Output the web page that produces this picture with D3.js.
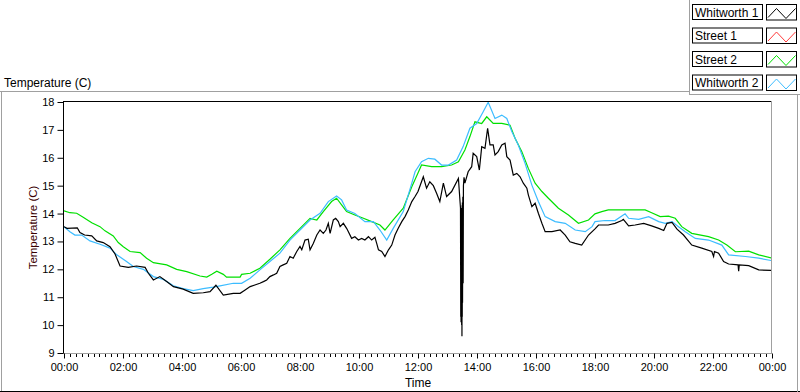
<!DOCTYPE html>
<html><head><meta charset="utf-8">
<script src="https://cdn.jsdelivr.net/npm/d3@7"></script>
<style>
html,body{margin:0;padding:0;background:#fff;}
svg{display:block;font-family:"Liberation Sans",Arial,sans-serif;}
</style></head>
<body>
<svg id="chart" width="800" height="392"></svg>
<script>
// ---- data ----
const seriesNames = ["Whitworth 1", "Street 1", "Street 2", "Whitworth 2"];
const seriesColors = ["#000000", "#ff3a3a", "#00e000", "#3cbcff"];
const xTickLabels = ["00:00","02:00","04:00","06:00","08:00","10:00","12:00","14:00","16:00","18:00","20:00","22:00","00:00"];
const yTickValues = [9,10,11,12,13,14,15,16,17,18];

const w1Hours = [0,0.1,0.45,0.54,0.7,0.94,1.11,1.33,1.56,1.73,1.9,2.18,2.46,2.75,2.86,3.03,3.25,3.48,3.71,4.04,4.38,4.72,4.95,5.15,5.4,5.74,5.97,6.14,6.31,6.47,6.64,6.76,6.87,6.98,7.1,7.21,7.32,7.43,7.55,7.66,7.77,7.89,8.0,8.06,8.17,8.28,8.34,8.45,8.57,8.68,8.79,8.88,8.96,9.02,9.13,9.21,9.3,9.36,9.47,9.58,9.64,9.75,9.86,9.98,10.09,10.2,10.32,10.43,10.54,10.6,10.66,10.77,10.88,11.0,11.11,11.22,11.33,11.45,11.56,11.67,11.79,11.9,12.0,12.18,12.29,12.4,12.52,12.63,12.74,12.86,12.97,13.14,13.37,13.44,13.45,13.455,13.46,13.465,13.47,13.475,13.48,13.485,13.49,13.495,13.5,13.505,13.51,13.52,13.53,13.54,13.56,13.59,13.7,13.82,13.87,13.99,14.08,14.16,14.27,14.36,14.44,14.55,14.61,14.72,14.84,14.95,15.01,15.12,15.23,15.35,15.46,15.57,15.69,15.74,15.86,15.97,16.08,16.2,16.31,16.54,16.82,16.99,17.15,17.33,17.55,17.78,18.0,18.12,18.45,18.68,18.91,18.96,19.14,19.36,19.65,19.92,20.16,20.33,20.44,20.61,20.78,21.0,21.28,21.62,21.96,22.02,22.05,22.19,22.36,22.53,22.85,22.87,22.89,23.21,23.55,24.0];
const w1Temps = [13.53,13.47,13.49,13.32,13.23,13.2,13.02,12.96,12.81,12.55,12.12,12.07,12.12,12.07,11.86,11.62,11.74,11.56,11.38,11.29,11.14,11.16,11.2,11.43,11.08,11.14,11.14,11.26,11.38,11.44,11.5,11.56,11.62,11.74,11.8,11.86,12.1,12.16,12.22,12.46,12.4,12.64,12.82,12.7,13.05,13.08,12.7,12.93,13.23,13.41,13.29,13.41,13.65,13.29,13.77,13.83,13.71,13.53,13.65,13.47,13.35,13.11,13.17,13.05,13.11,13.05,13.17,13.05,13.15,12.93,12.7,12.64,12.46,12.7,12.87,13.23,13.47,13.71,13.89,14.13,14.43,14.61,14.79,15.32,14.91,15.14,15.0,14.73,14.43,15.09,14.61,14.79,15.26,14.2,10.3,14.1,10.1,13.9,10.4,14.2,10.0,14.0,9.6,14.3,10.3,14.4,10.8,14.6,11.5,15.0,15.3,15.09,15.5,15.68,16.16,16.04,15.56,16.4,16.34,17.06,16.46,16.46,16.1,16.22,16.46,16.52,16.04,15.92,15.38,15.44,15.32,15.09,14.91,14.67,14.25,14.37,14.01,13.65,13.35,13.35,13.41,13.23,12.99,12.93,12.87,13.23,13.45,13.59,13.59,13.65,13.75,13.79,13.56,13.59,13.65,13.56,13.47,13.39,13.65,13.68,13.44,13.23,12.87,12.76,12.64,12.46,12.64,12.58,12.28,12.19,12.16,11.93,12.16,12.13,11.98,11.96];

const s1Hours = [];
const s1Temps = [];

const s2Hours = [0,0.2,0.43,0.65,0.94,1.22,1.39,1.67,1.84,2.01,2.24,2.58,2.8,3.03,3.48,3.82,4.16,4.61,4.84,5.01,5.18,5.4,5.51,5.97,6.02,6.31,6.64,6.98,7.32,7.66,8.0,8.34,8.57,8.79,9.07,9.24,9.41,9.58,9.86,10.15,10.43,10.71,10.88,11.16,11.5,11.79,12.0,12.12,12.46,12.8,13.14,13.37,13.59,13.76,13.93,14.16,14.33,14.55,14.84,15.12,15.29,15.52,15.74,15.97,16.2,16.42,16.76,17.1,17.44,17.78,18.0,18.23,18.45,19.02,19.7,19.92,20.21,20.49,20.72,20.94,21.28,21.85,22.19,22.47,22.76,23.21,23.55,24.0];
const s2Temps = [14.1,14.03,14.01,13.87,13.67,13.53,13.38,13.2,12.96,12.81,12.64,12.6,12.4,12.24,12.16,12.0,11.92,11.76,11.72,11.82,11.93,11.82,11.72,11.72,11.82,11.86,12.04,12.36,12.7,13.11,13.47,13.83,13.77,14.07,14.43,14.55,14.31,14.07,13.95,13.83,13.71,13.59,13.41,13.77,14.19,14.96,15.45,15.74,15.68,15.68,15.74,15.86,16.28,16.76,17.29,17.23,17.47,17.23,17.23,17.17,16.7,16.22,15.62,15.09,14.79,14.55,14.19,13.95,13.65,13.77,13.99,14.07,14.13,14.13,14.13,14.03,13.89,13.91,13.83,13.53,13.29,13.17,13.05,12.87,12.63,12.65,12.52,12.4];

const w2Hours = [0,0.2,0.37,0.6,0.88,1.22,1.56,1.79,2.12,2.35,2.69,3.03,3.37,3.71,4.04,4.38,4.72,5.06,5.29,5.74,6.02,6.31,6.64,6.98,7.32,7.66,8.0,8.34,8.68,8.96,9.24,9.41,9.58,9.86,10.2,10.49,10.71,10.94,11.16,11.5,11.79,11.9,12.12,12.35,12.57,12.8,13.03,13.31,13.53,13.76,13.99,14.21,14.38,14.61,14.84,15.01,15.18,15.4,15.63,15.86,16.08,16.31,16.65,16.99,17.33,17.67,17.9,18.0,18.34,18.68,19.02,19.14,19.48,19.82,20.16,20.38,20.61,20.83,21.06,21.4,21.85,22.3,22.53,23.1,23.55,24.0];
const w2Temps = [13.53,13.35,13.23,13.23,13.02,12.9,12.76,12.52,12.28,12.1,12.0,11.74,11.64,11.41,11.31,11.24,11.31,11.36,11.41,11.5,11.5,11.68,11.98,12.28,12.58,13.05,13.41,13.77,14.01,14.43,14.63,14.49,14.13,14.0,13.71,13.71,13.41,13.05,13.47,14.07,15.09,15.5,15.86,15.98,15.95,15.74,15.74,15.92,16.4,17.06,17.23,17.65,17.99,17.41,17.53,17.41,16.94,16.46,15.8,15.02,14.43,13.89,13.71,13.65,13.41,13.35,13.53,13.71,13.75,13.75,13.99,13.83,13.79,13.89,13.71,13.65,13.71,13.53,13.35,13.11,13.05,12.87,12.52,12.46,12.4,12.31];

const seriesHours = [w1Hours, s1Hours, s2Hours, w2Hours];
const seriesTemps = [w1Temps, s1Temps, s2Temps, w2Temps];

// ---- layout ----
const svg = d3.select("#chart");
const x = d3.scaleLinear().domain([0, 24]).range([64, 772]);
const y = d3.scaleLinear().domain([9, 18]).range([353, 102]);

// outer panel lines
const grey = "#a0a0a0";
svg.append("line").attr("x1",0).attr("x2",689).attr("y1",91.5).attr("y2",91.5).attr("stroke",grey);
svg.append("line").attr("x1",689.5).attr("x2",689.5).attr("y1",0).attr("y2",95).attr("stroke",grey);
svg.append("line").attr("x1",689).attr("x2",800).attr("y1",94.5).attr("y2",94.5).attr("stroke",grey);
svg.append("line").attr("x1",1.5).attr("x2",1.5).attr("y1",91).attr("y2",392).attr("stroke",grey);
svg.append("line").attr("x1",0).attr("x2",800).attr("y1",391.5).attr("y2",391.5).attr("stroke","#000");
svg.append("line").attr("x1",797.5).attr("x2",797.5).attr("y1",94).attr("y2",392).attr("stroke",grey);

// title
svg.append("text").attr("x",4).attr("y",87).attr("font-size",12).attr("fill","#000").text("Temperature (C)");

// plot frame
svg.append("line").attr("x1",63).attr("x2",772).attr("y1",101.5).attr("y2",101.5).attr("stroke","#000");
svg.append("line").attr("x1",771.5).attr("x2",771.5).attr("y1",101).attr("y2",354).attr("stroke",grey);

// series lines
const clipId = "plotclip";
svg.append("clipPath").attr("id", clipId).append("rect").attr("x",64).attr("y",102).attr("width",707).attr("height",251);
const lineGen = d3.line().x(d => x(d[0])).y(d => y(d[1]));
const drawOrder = [2, 1, 3, 0];
const plotG = svg.append("g").attr("clip-path", `url(#${clipId})`);
drawOrder.forEach(i => {
  const pts = seriesHours[i].map((h, k) => [h, seriesTemps[i][k]]);
  if (pts.length === 0) return;
  plotG.append("path").datum(pts).attr("d", lineGen)
    .attr("fill","none").attr("stroke", seriesColors[i]).attr("stroke-width", 1.2)
    .attr("stroke-linejoin","miter");
});

// y axis
const yAxis = d3.axisLeft(y).tickValues(yTickValues).tickSize(6).tickPadding(3).tickFormat(d3.format("d"));
const yg = svg.append("g").attr("transform","translate(63.5,0)").call(yAxis);
yg.select(".domain").attr("stroke","#000").attr("d","M0,101V353.5");
yg.selectAll(".tick line").attr("stroke","#000");
yg.selectAll(".tick text").attr("font-size",11).attr("fill","#000").attr("font-family","Liberation Sans, Arial, sans-serif");

// x axis: major ticks
const majorVals = d3.range(0, 25, 2);
const xAxis = d3.axisBottom(x).tickValues(majorVals).tickSize(5).tickPadding(5)
  .tickFormat((d, i) => xTickLabels[i]);
const xg = svg.append("g").attr("transform","translate(0,353.5)").call(xAxis);
xg.select(".domain").attr("stroke",grey).attr("d","M64,0H772");
xg.selectAll(".tick line").attr("stroke","#000");
xg.selectAll(".tick text").attr("font-size",11).attr("fill","#000").attr("font-family","Liberation Sans, Arial, sans-serif");
// minor ticks every 12 minutes
const minorVals = d3.range(0, 24*5+1).map(k => k/5).filter(v => Math.abs(v/2 - Math.round(v/2)) > 1e-6);
svg.append("g").selectAll("line").data(minorVals).join("line")
  .attr("x1", d => Math.round(x(d)) + 0.5).attr("x2", d => Math.round(x(d)) + 0.5)
  .attr("y1", 354).attr("y2", 357).attr("stroke","#000");

// axis titles
svg.append("text").attr("x", x(12)).attr("y", 387).attr("text-anchor","middle").attr("font-size",12).attr("fill","#000").text("Time");
svg.append("text").attr("transform", `translate(37,${(102+353)/2}) rotate(-90)`).attr("text-anchor","middle")
  .attr("font-size",11.5).attr("fill","#3a0000").text("Temperature (C)");

// legend
const legRowY = [4, 27.5, 51, 74.5];
const leg = svg.append("g");
seriesNames.forEach((name, i) => {
  const g = leg.append("g").attr("transform", `translate(0,${legRowY[i]})`);
  g.append("rect").attr("x",692.5).attr("y",0.5).attr("width",70).attr("height",15).attr("fill","#fff").attr("stroke","#000");
  g.append("text").attr("x",695).attr("y",12.5).attr("font-size",12).attr("fill","#000").text(name);
  g.append("rect").attr("x",766.5).attr("y",0.5).attr("width",30).attr("height",15.5).attr("fill","#fff").attr("stroke","#000");
  g.append("path").attr("d","M768,13.5L776.5,4.5L786,14.5L795.5,4.5").attr("fill","none").attr("stroke",seriesColors[i]).attr("stroke-width",1);
});
</script>
</body></html>
